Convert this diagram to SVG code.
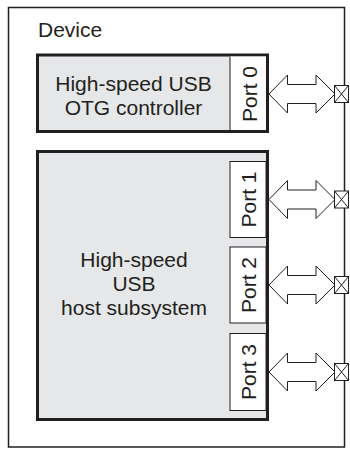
<svg xmlns="http://www.w3.org/2000/svg" width="350" height="449" viewBox="0 0 350 449">
<style>
text{font-family:"Liberation Sans",Arial,sans-serif;font-size:21px;fill:#231f20}
.blk{fill:#e6e7e8;stroke:#231f20;stroke-width:3}
.port{fill:#fff;stroke:#231f20;stroke-width:1}
.arr{fill:#fff;stroke:#231f20;stroke-width:1;stroke-linejoin:miter}
.pad{fill:#fff;stroke:#231f20;stroke-width:1}
.mid{text-anchor:middle}
</style>
<rect width="350" height="449" fill="#fff"/>
<g id="device">
<rect x="8.5" y="7.5" width="336" height="439.5" fill="none" stroke="#231f20" stroke-width="1.5"/>
<text x="38" y="36.5">Device</text>
</g>
<g id="otg">
<rect class="blk" x="37.5" y="55" width="230" height="76.5"/>
<rect x="230" y="56.5" width="36" height="73.5" fill="#fff"/>
<line x1="230" y1="56.5" x2="230" y2="130" stroke="#231f20" stroke-width="1"/>
<text class="mid" x="133.5" y="91">High-speed USB</text>
<text class="mid" x="133.5" y="115">OTG controller</text>
<text class="mid" transform="translate(256.5,94) rotate(-90)">Port 0</text>
</g>
<g id="host">
<rect class="blk" x="37.5" y="151.5" width="230" height="268"/>
<text class="mid" x="134" y="267">High-speed</text>
<text class="mid" x="134" y="291">USB</text>
<text class="mid" x="134" y="315">host subsystem</text>
</g>
<g id="port1">
<rect class="port" x="230" y="161.5" width="36" height="76"/>
<text class="mid" transform="translate(255.5,199.5) rotate(-90)">Port 1</text>
</g>
<g id="port2">
<rect class="port" x="230" y="247" width="36" height="76"/>
<text class="mid" transform="translate(255.5,285) rotate(-90)">Port 2</text>
</g>
<g id="port3">
<rect class="port" x="230" y="333.5" width="36" height="77"/>
<text class="mid" transform="translate(255.5,372) rotate(-90)">Port 3</text>
</g>
<g id="connectors">
<path class="arr" d="M269,94 L287.5,75 L287.5,84.5 L316,84.5 L316,75 L335,94 L316,113 L316,103.5 L287.5,103.5 L287.5,113 Z"/>
<path class="arr" d="M269,199.5 L287.5,180.5 L287.5,190 L316,190 L316,180.5 L335,199.5 L316,218.5 L316,209 L287.5,209 L287.5,218.5 Z"/>
<path class="arr" d="M269,285 L287.5,266 L287.5,275.5 L316,275.5 L316,266 L335,285 L316,304 L316,294.5 L287.5,294.5 L287.5,304 Z"/>
<path class="arr" d="M269,372 L287.5,353 L287.5,362.5 L316,362.5 L316,353 L335,372 L316,391 L316,381.5 L287.5,381.5 L287.5,391 Z"/>
</g>
<g id="pads">
<g transform="translate(334.5,94)"><rect class="pad" x="0" y="-8.5" width="14" height="17"/><path d="M0,-8.5 L14,8.5 M0,8.5 L14,-8.5" stroke="#231f20" stroke-width="1" fill="none"/></g>
<g transform="translate(334.5,199.5)"><rect class="pad" x="0" y="-8.5" width="14" height="17"/><path d="M0,-8.5 L14,8.5 M0,8.5 L14,-8.5" stroke="#231f20" stroke-width="1" fill="none"/></g>
<g transform="translate(334.5,285)"><rect class="pad" x="0" y="-8.5" width="14" height="17"/><path d="M0,-8.5 L14,8.5 M0,8.5 L14,-8.5" stroke="#231f20" stroke-width="1" fill="none"/></g>
<g transform="translate(334.5,372)"><rect class="pad" x="0" y="-8.5" width="14" height="17"/><path d="M0,-8.5 L14,8.5 M0,8.5 L14,-8.5" stroke="#231f20" stroke-width="1" fill="none"/></g>
</g>
</svg>
